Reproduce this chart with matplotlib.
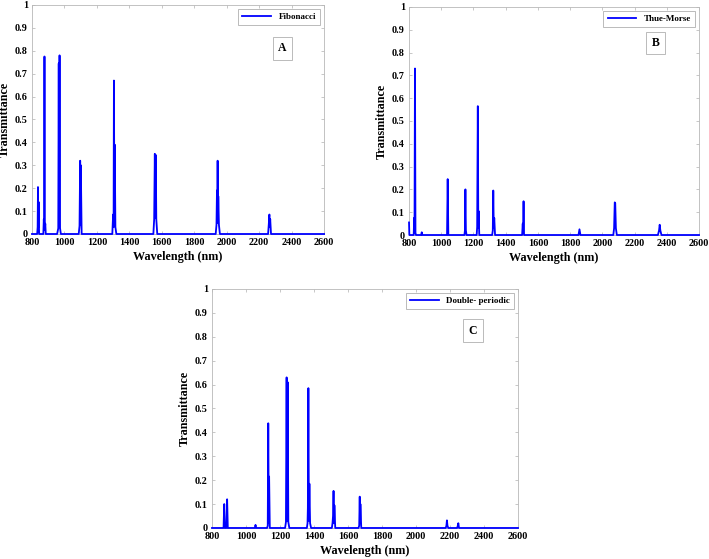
import matplotlib
matplotlib.use("Agg")
import matplotlib.pyplot as plt

plt.rcParams['font.family'] = ['Liberation Serif', 'DejaVu Serif']
plt.rcParams['font.weight'] = 'bold'

# panel A - Fibonacci
wl_a = [800, 832, 835, 837, 839, 841, 844, 870, 873, 875, 877, 879, 882, 885,
        955, 962, 965, 967, 970, 973, 978, 1088, 1093, 1097, 1099, 1101, 1106,
        1295, 1300, 1303, 1305, 1308, 1310, 1314, 1320, 1548, 1553, 1557, 1560,
        1563, 1566, 1572, 1932, 1937, 1940, 1942, 1944, 1946, 1948, 1952, 1958,
        2255, 2259, 2263, 2265, 2268, 2273, 2600]
tr_a = [0, 0, 0.03, 0.205, 0.03, 0.14, 0, 0, 0.065, 0.02, 0.775, 0.02, 0.045, 0,
        0, 0.025, 0.745, 0.03, 0.78, 0.025, 0, 0, 0.035, 0.32, 0.04, 0.30, 0,
        0, 0.085, 0.03, 0.67, 0.05, 0.39, 0.03, 0, 0, 0.065, 0.35, 0.07,
        0.345, 0.065, 0, 0, 0.04, 0.19, 0.05, 0.32, 0.05, 0.165, 0.04, 0,
        0, 0.04, 0.085, 0.03, 0.065, 0, 0]

# panel B - Thue-Morse
wl_b = [800, 802, 829, 832, 834, 837, 840, 843, 875, 879, 883, 1036, 1040, 1044,
        1144, 1147, 1150, 1153, 1157, 1220, 1223, 1227, 1230, 1232, 1236,
        1316, 1320, 1323, 1326, 1329, 1334, 1502, 1506, 1508, 1511, 1514,
        1852, 1858, 1864, 2068, 2073, 2077, 2080, 2084, 2090,
        2345, 2352, 2356, 2360, 2367, 2600]
tr_b = [0.055, 0, 0, 0.075, 0.01, 0.73, 0.01, 0, 0, 0.012, 0, 0, 0.245, 0,
        0, 0.02, 0.2, 0.02, 0, 0, 0.035, 0.565, 0.03, 0.105, 0,
        0, 0.02, 0.195, 0.03, 0.075, 0, 0, 0.05, 0.01, 0.148, 0,
        0, 0.025, 0, 0, 0.03, 0.143, 0.14, 0.03, 0,
        0, 0.02, 0.045, 0.02, 0, 0]

# panel C - Double-periodic
wl_c = [800, 868, 872, 876, 885, 889, 893, 1052, 1056, 1060,
        1124, 1128, 1131, 1134, 1136, 1140, 1230, 1235, 1239, 1242, 1245, 1249, 1255,
        1358, 1362, 1364, 1367, 1370, 1373, 1377, 1383,
        1505, 1509, 1512, 1515, 1518, 1520, 1525, 1662, 1666, 1669, 1671, 1673, 1678,
        2175, 2179, 2182, 2185, 2190, 2242, 2246, 2249, 2253, 2600]
tr_c = [0, 0, 0.10, 0, 0, 0.12, 0, 0, 0.013, 0,
        0, 0.01, 0.438, 0.02, 0.215, 0, 0, 0.025, 0.63, 0.03, 0.61, 0.025, 0,
        0, 0.02, 0.085, 0.585, 0.03, 0.185, 0.02, 0,
        0, 0.02, 0.05, 0.155, 0.02, 0.095, 0, 0, 0.01, 0.131, 0.02, 0.10, 0,
        0, 0.01, 0.032, 0.01, 0, 0, 0.01, 0.02, 0, 0]

xticks = list(range(800, 2601, 200))
yticks = [0, 0.1, 0.2, 0.3, 0.4, 0.5, 0.6, 0.7, 0.8, 0.9, 1]
ytick_labels = ['0', '0.1', '0.2', '0.3', '0.4', '0.5', '0.6', '0.7', '0.8', '0.9', '1']

panels = [
    (wl_a, tr_a, 'Fibonacci', 'A', [0.0451, 0.5814, 0.412, 0.4097], (0.858, 0.81)),
    (wl_b, tr_b, 'Thue-Morse', 'B', [0.5769, 0.5796, 0.409, 0.408], (0.85, 0.842)),
    (wl_c, tr_c, 'Double- periodic', 'C', [0.299, 0.0555, 0.4316, 0.4276], (0.853, 0.826)),
]

fig = plt.figure(figsize=(7.09, 5.59), dpi=100)

for wl, tr, name, tag, rect, tagpos in panels:
    ax = fig.add_axes(rect)
    ax.plot(wl, tr, color='#0000ff', lw=1.3, label=name, clip_on=False, zorder=3)
    ax.set_xlim(800, 2600)
    ax.set_ylim(0, 1)
    ax.set_xticks(xticks)
    ax.set_yticks(yticks)
    ax.set_yticklabels(ytick_labels)
    ax.tick_params(direction='in', length=2.5, width=0.5, labelsize=7.3,
                   top=True, right=True, colors='#b0b0b0', labelcolor='black')
    ax.tick_params(axis='x', pad=3)
    ax.tick_params(axis='y', pad=3)
    for lab in ax.get_xticklabels() + ax.get_yticklabels():
        lab.set_fontweight('bold')
    for s in ax.spines.values():
        s.set_color('#b8b8b8')
        s.set_linewidth(0.6)
    ax.set_xlabel('Wavelength (nm)', fontsize=8.7, fontweight='bold', labelpad=3)
    ax.set_ylabel('Transmittance', fontsize=8.7, fontweight='bold', labelpad=3)
    leg = ax.legend(loc='upper right', fontsize=6.5, fancybox=False, framealpha=1,
                    handlelength=3.2, borderpad=0.45, borderaxespad=0.45)
    leg.get_frame().set_edgecolor('#b0b0b0')
    leg.get_frame().set_linewidth(0.6)
    for t in leg.get_texts():
        t.set_fontweight('bold')
    ax.text(tagpos[0], tagpos[1], tag, transform=ax.transAxes, fontsize=8.5,
            fontweight='bold', ha='center', va='center',
            bbox=dict(boxstyle='square,pad=0.45', fc='white', ec='#b0b0b0', lw=0.6))

fig.savefig('out.png', dpi=100)
